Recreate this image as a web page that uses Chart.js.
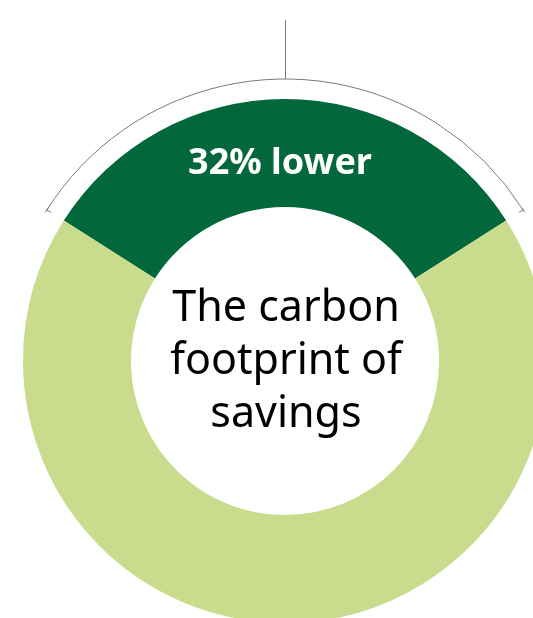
<!DOCTYPE html>
<html>
<head>
<meta charset="utf-8">
<script src="https://cdn.jsdelivr.net/npm/chart.js@4.4.1/dist/chart.umd.min.js"></script>
<style>
  html, body { margin: 0; padding: 0; background: #ffffff; width: 533px; height: 618px; overflow: hidden; }
  #wrap { position: absolute; left: 0; top: 0; width: 570px; height: 722px; }
</style>
</head>
<body>
<div id="wrap"><canvas id="c"></canvas></div>
<script>
const categories = ['32% lower', 'Remaining footprint'];
const values = [32, 68];
const segmentColors = ['#02673A', '#C9DC8D'];
const segmentLabel = '32% lower';
const centerLines = ['The carbon', 'footprint of', 'savings'];

const overlay = {
  id: 'overlay',
  afterDatasetsDraw(chart) {
    const ctx = chart.ctx;
    const meta = chart.getDatasetMeta(0);
    const arc = meta.data[0];
    const p = arc.getProps(['x', 'y', 'startAngle', 'endAngle', 'innerRadius', 'outerRadius'], true);
    const cx = p.x, cy = p.y;
    const mid = (p.startAngle + p.endAngle) / 2;

    // bracket arc around the highlighted segment
    const br = p.outerRadius + 20;
    ctx.save();
    ctx.strokeStyle = '#7a7a7a';
    ctx.lineWidth = 1;
    ctx.beginPath();
    ctx.arc(cx, cy, br, p.startAngle, p.endAngle);
    ctx.stroke();
    // end ticks
    [p.startAngle, p.endAngle].forEach(a => {
      ctx.beginPath();
      ctx.moveTo(cx + Math.cos(a) * br, cy + Math.sin(a) * br);
      ctx.lineTo(cx + Math.cos(a) * (br - 5), cy + Math.sin(a) * (br - 5));
      ctx.stroke();
      const tx = -Math.sin(a), ty = Math.cos(a);
      ctx.beginPath();
      ctx.moveTo(cx + Math.cos(a) * br - tx * 3, cy + Math.sin(a) * br - ty * 3);
      ctx.lineTo(cx + Math.cos(a) * br + tx * 3, cy + Math.sin(a) * br + ty * 3);
      ctx.stroke();
    });
    // vertical leader line
    const topX = cx + Math.cos(mid) * br, topY = cy + Math.sin(mid) * br;
    ctx.beginPath();
    ctx.moveTo(Math.round(topX) + 0.5, 20);
    ctx.lineTo(Math.round(topX) + 0.5, topY);
    ctx.stroke();

    // segment label
    const lr = p.innerRadius + 0.43 * (p.outerRadius - p.innerRadius);
    ctx.fillStyle = '#ffffff';
    ctx.font = 'bold 36px "Noto Sans"';
    ctx.textAlign = 'center';
    ctx.textBaseline = 'alphabetic';
    ctx.fillText(segmentLabel, cx + Math.cos(mid) * lr - 5, cy + Math.sin(mid) * lr + 13);

    // center text
    ctx.fillStyle = '#000000';
    ctx.font = '43px "Noto Sans"';
    const lh = 53;
    const first = cy - 40;
    centerLines.forEach((t, i) => ctx.fillText(t, cx + 1, first + i * lh));
    ctx.restore();
  }
};

new Chart(document.getElementById('c'), {
  type: 'doughnut',
  data: {
    labels: categories,
    datasets: [{
      data: values,
      backgroundColor: segmentColors,
      borderWidth: 0,
      hoverOffset: 0
    }]
  },
  options: {
    responsive: true,
    maintainAspectRatio: false,
    animation: false,
    cutout: '58.8%',
    rotation: -57.6,
    layout: { padding: { left: 23, right: 23, top: 99, bottom: 99 } },
    plugins: {
      legend: { display: false },
      tooltip: { enabled: false }
    }
  },
  plugins: [overlay]
});
</script>
</body>
</html>
